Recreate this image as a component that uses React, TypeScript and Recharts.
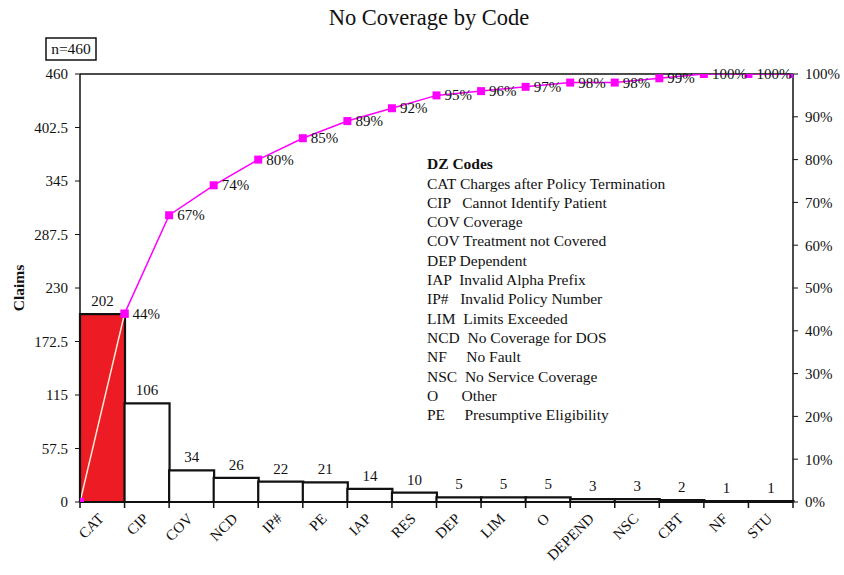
import React from 'react';
import { ComposedChart, Bar, Line, XAxis, YAxis, Cell, LabelList, ReferenceLine } from 'recharts';

const categories = ['CAT', 'CIP', 'COV', 'NCD', 'IP#', 'PE', 'IAP', 'RES', 'DEP', 'LIM', 'O', 'DEPEND', 'NSC', 'CBT', 'NF', 'STU'];
const claims = [202, 106, 34, 26, 22, 21, 14, 10, 5, 5, 5, 3, 3, 2, 1, 1];
const cumulativePct = [0, 44, 67, 74, 80, 85, 89, 92, 95, 96, 97, 98, 98, 99, 100, 100, 100];
const leftTicks = [0, 57.5, 115, 172.5, 230, 287.5, 345, 402.5, 460];
const rightTicks = [0, 10, 20, 30, 40, 50, 60, 70, 80, 90, 100];
const legendTitle = 'DZ Codes';
const legendLines = [
  'CAT Charges after Policy Termination',
  'CIP   Cannot Identify Patient',
  'COV Coverage',
  'COV Treatment not Covered',
  'DEP Dependent',
  'IAP  Invalid Alpha Prefix',
  'IP#   Invalid Policy Number',
  'LIM  Limits Exceeded',
  'NCD  No Coverage for DOS',
  'NF     No Fault',
  'NSC  No Service Coverage',
  'O      Other',
  'PE     Presumptive Eligibility',
];
const title = 'No Coverage by Code';
const sampleNote = 'n=460';
const yLabel = 'Claims';

const barData = categories.map((code, i) => ({ code, claims: claims[i] }));
const lineData = cumulativePct.map((pct, i) => ({ pos: i, pct }));
const firstSegment = lineData.slice(0, 2);
const mainSegment = lineData.slice(1);

const FONT = '"Liberation Serif", "Times New Roman", serif';
const MAGENTA = '#ff00ff';
const TICK_SIZE = 6;
const TICK_MARGIN = 8;

const SquareDot = (props: any) => {
  const { cx, cy, index } = props;
  if (cx == null || cy == null) return <g key={'d' + index} />;
  return <rect key={'d' + index} x={cx - 4} y={cy - 4} width={8} height={8} fill={MAGENTA} />;
};

const PctLabel = (props: any) => {
  const { x, y, value, index } = props;
  if (index >= mainSegment.length - 1) return null;
  return (
    <text x={x + 8} y={y + 5} fontFamily={FONT} fontSize={15} fill="#111">
      {value}%
    </text>
  );
};

const CategoryTick = (props: any) => {
  const { x, y, payload, index } = props;
  const half = payload && payload.offset ? payload.offset : 0;
  const axisY = y - TICK_SIZE - TICK_MARGIN;
  const tx = x - 5;
  const ty = y - 4;
  return (
    <g>
      <line x1={x - half} x2={x - half} y1={axisY} y2={axisY + 6} stroke="#111" strokeWidth={1.5} />
      {index === categories.length - 1 && (
        <line x1={x + half} x2={x + half} y1={axisY} y2={axisY + 6} stroke="#111" strokeWidth={1.5} />
      )}
      <text
        x={tx}
        y={ty}
        dy="0.71em"
        transform={`rotate(-45, ${tx}, ${ty})`}
        textAnchor="end"
        fontFamily={FONT}
        fontSize={15}
        fill="#111"
      >
        {payload.value}
      </text>
    </g>
  );
};

export default function App() {
  return (
    <div style={{ position: 'absolute', left: 0, top: 0, width: 844, height: 575, background: '#fff' }}>
      <ComposedChart
        width={844}
        height={575}
        data={barData}
        margin={{ top: 74, right: 6, bottom: 13, left: 20 }}
        barCategoryGap="0%"
        barGap={0}
      >
        <XAxis
          xAxisId="cat"
          dataKey="code"
          type="category"
          interval={0}
          tickLine={false}
          tickSize={TICK_SIZE}
          tickMargin={TICK_MARGIN}
          axisLine={{ stroke: '#111', strokeWidth: 2 }}
          height={60}
          tick={CategoryTick}
        />
        <XAxis
          xAxisId="num"
          type="number"
          dataKey="pos"
          domain={[0, 16]}
          hide
          allowDataOverflow
        />
        <YAxis
          yAxisId="left"
          domain={[0, 460]}
          ticks={leftTicks}
          width={60}
          axisLine={{ stroke: '#111', strokeWidth: 1.5 }}
          tickLine={{ stroke: '#111' }}
          tickSize={5}
          tickMargin={7}
          tick={{ fontFamily: FONT, fontSize: 15, fill: '#111' }}
          allowDataOverflow
        />
        <YAxis
          yAxisId="right"
          orientation="right"
          domain={[0, 100]}
          ticks={rightTicks}
          width={45}
          tickFormatter={(v: number) => v + '%'}
          axisLine={{ stroke: '#111', strokeWidth: 1.5 }}
          tickLine={{ stroke: '#111' }}
          tickSize={5}
          tickMargin={7}
          tick={{ fontFamily: FONT, fontSize: 15, fill: '#111' }}
          allowDataOverflow
        />
        <ReferenceLine yAxisId="left" xAxisId="cat" y={460} stroke="#111" strokeWidth={1.5} />
        <Bar
          xAxisId="cat"
          yAxisId="left"
          dataKey="claims"
          stroke="#111"
          strokeWidth={2.2}
          isAnimationActive={false}
        >
          {barData.map((d, i) => (
            <Cell key={d.code} fill={i === 0 ? '#ed1c24' : '#ffffff'} />
          ))}
          <LabelList dataKey="claims" position="top" offset={8} style={{ fontFamily: FONT, fontSize: 15, fill: '#111' }} />
        </Bar>
        <Line
          xAxisId="num"
          yAxisId="right"
          data={firstSegment}
          dataKey="pct"
          stroke="#f7ecd8"
          strokeWidth={1.5}
          dot={SquareDot}
          activeDot={false}
          isAnimationActive={false}
        />
        <Line
          xAxisId="num"
          yAxisId="right"
          data={mainSegment}
          dataKey="pct"
          stroke={MAGENTA}
          strokeWidth={1.5}
          dot={SquareDot}
          activeDot={false}
          isAnimationActive={false}
        >
          <LabelList dataKey="pct" content={PctLabel} />
        </Line>
      </ComposedChart>
      <svg width={844} height={575} style={{ position: 'absolute', left: 0, top: 0, pointerEvents: 'none' }}>
        <text x={429} y={25} textAnchor="middle" fontFamily={FONT} fontSize={22.5} fill="#111">
          {title}
        </text>
        <rect x={46} y={38} width={50} height={22} fill="#fff" stroke="#111" strokeWidth={1.5} />
        <text x={71} y={54} textAnchor="middle" fontFamily={FONT} fontSize={15.5} fill="#111">
          {sampleNote}
        </text>
        <text
          x={0}
          y={0}
          transform="translate(24,288) rotate(-90)"
          textAnchor="middle"
          fontFamily={FONT}
          fontSize={15.5}
          fontWeight="bold"
          fill="#111"
        >
          {yLabel}
        </text>
        <text x={427} y={169} fontFamily={FONT} fontSize={15.5} fontWeight="bold" fill="#111">
          {legendTitle}
        </text>
        {legendLines.map((line, i) => (
          <text
            key={i}
            x={427}
            y={188.5 + i * 19.3}
            fontFamily={FONT}
            fontSize={15.5}
            fill="#111"
            style={{ whiteSpace: 'pre' }}
          >
            {line}
          </text>
        ))}
      </svg>
    </div>
  );
}
